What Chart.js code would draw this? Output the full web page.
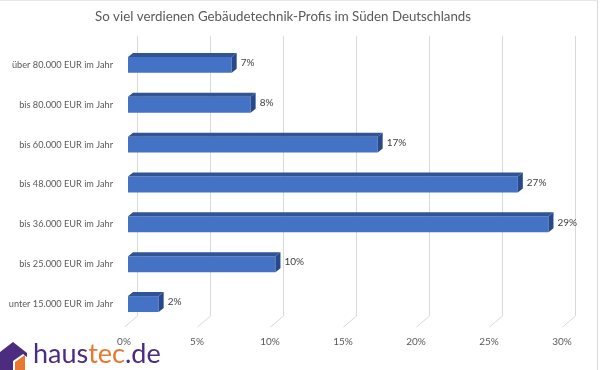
<!DOCTYPE html>
<html>
<head>
<meta charset="utf-8">
<script src="https://cdn.jsdelivr.net/npm/chart.js@4.4.1/dist/chart.umd.min.js"></script>
<style>
  html, body { margin: 0; padding: 0; background: #fff; }
  #wrap { position: relative; width: 600px; height: 370px; overflow: hidden; }
  canvas { position: absolute; left: 0; top: 0; }
  #frameR { position: absolute; left: 597px; top: 0; width: 1px; height: 370px; background: #d9d9d9; }
  #frameT { position: absolute; left: 0; top: 0; width: 598px; height: 1px; background: #e6e6e6; }
  #logo { position: absolute; left: 0; top: 336px; height: 40px; width: 200px; }
  #logo svg { position: absolute; left: 0; top: 5px; }
  #logoText { position: absolute; left: 33px; top: 1px; font-family: Lato, sans-serif; font-size: 27px; line-height: 32px; font-weight: normal; white-space: nowrap; }
  .p { color: #4b2c7e; }
  .o { color: #e8782f; }
</style>
</head>
<body>
<div id="wrap">
  <canvas id="c" width="600" height="370"></canvas>
  <div id="frameR"></div>
  <div id="frameT"></div>
  <div id="logo">
    <svg width="30" height="34" viewBox="0 0 30 34">
      <polygon points="0,11 13,1 27,12 27,16 23,13 13,20 13,34 0,34" fill="#4b2c7e"/>
      <polygon points="15,21 25,14 25,34 15,34" fill="#e8782f"/>
    </svg>
    <div id="logoText"><span class="p">haus</span><span class="o">tec</span><span class="p">.de</span></div>
  </div>
</div>
<script>
const chartTitle = "So viel verdienen Gebäudetechnik-Profis im Süden Deutschlands";
const categories = [
  "über 80.000 EUR im Jahr",
  "bis 80.000 EUR im Jahr",
  "bis 60.000 EUR im Jahr",
  "bis 48.000 EUR im Jahr",
  "bis 36.000 EUR im Jahr",
  "bis 25.000 EUR im Jahr",
  "unter 15.000 EUR im Jahr"
];
// bar lengths (percent)
const shares = [7.1, 8.4, 17.1, 26.7, 28.8, 10.1, 2.1];
// value labels as printed in the chart
const valueLabels = ["7%", "8%", "17%", "27%", "29%", "10%", "2%"];
const xTicks = [0, 5, 10, 15, 20, 25, 30];

const FONT = "Lato, 'Liberation Sans', sans-serif";
const TXT = "#595959";

const DX = 5, DY = 4;       // bar depth
const GX = 9;               // back wall offset

const threeD = {
  id: "threeD",
  beforeDatasetsDraw(chart) {
    const ctx = chart.ctx;
    const xs = chart.scales.x;
    const area = chart.chartArea;
    ctx.save();
    ctx.strokeStyle = "#d9d9d9";
    ctx.lineWidth = 1;
    xTicks.forEach(v => {
      const px = Math.round(xs.getPixelForValue(v)) + 0.5;
      ctx.beginPath();
      ctx.moveTo(px + GX, area.top - 9);
      ctx.lineTo(px + GX, area.bottom - 8);
      ctx.lineTo(px - 4, area.bottom + 3);
      ctx.stroke();
    });
    ctx.restore();
  },
  afterDatasetsDraw(chart) {
    const ctx = chart.ctx;
    const meta = chart.getDatasetMeta(0);
    ctx.save();
    meta.data.forEach((bar, i) => {
      const p = bar.getProps(["x", "y", "base", "height"], true);
      const top = p.y - p.height / 2;
      const bottom = p.y + p.height / 2;
      const l = p.base, r = p.x;
      ctx.fillStyle = "#2f5597";
      ctx.beginPath();
      ctx.moveTo(l, top);
      ctx.lineTo(l + DX, top - DY);
      ctx.lineTo(r + DX, top - DY);
      ctx.lineTo(r, top);
      ctx.closePath();
      ctx.fill();
      ctx.fillStyle = "#27488a";
      ctx.beginPath();
      ctx.moveTo(r, top);
      ctx.lineTo(r + DX, top - DY);
      ctx.lineTo(r + DX, bottom - DY);
      ctx.lineTo(r, bottom);
      ctx.closePath();
      ctx.fill();
      ctx.fillStyle = "#404040";
      ctx.font = "10px " + FONT;
      ctx.textAlign = "left";
      ctx.textBaseline = "middle";
      ctx.fillText(valueLabels[i], r + DX + 4, p.y - 2);
    });
    ctx.restore();
  }
};

new Chart(document.getElementById("c"), {
  type: "bar",
  data: {
    labels: categories,
    datasets: [{
      data: shares,
      backgroundColor: "#4472c4",
      borderWidth: 0,
      barPercentage: 0.4,
      categoryPercentage: 1.0
    }]
  },
  options: {
    indexAxis: "y",
    responsive: false,
    animation: false,
    layout: { padding: { left: 0, right: 34, top: 0, bottom: 0 } },
    plugins: {
      legend: { display: false },
      tooltip: { enabled: false },
      title: {
        display: true,
        text: chartTitle,
        color: TXT,
        font: { family: FONT, size: 13.3, weight: "normal" },
        padding: { top: 9, bottom: 20 }
      }
    },
    scales: {
      x: {
        min: 0,
        max: 30,
        afterBuildTicks(scale) { scale.ticks = xTicks.map(v => ({ value: v })); },
        afterFit(scale) { scale.height = 46; },
        grid: { display: false, drawTicks: false },
        border: { display: false },
        ticks: {
          color: TXT,
          font: { family: FONT, size: 10 },
          padding: 12,
          labelOffset: -4,
          maxRotation: 0,
          callback: v => v + "%"
        }
      },
      y: {
        afterFit(scale) { scale.width = 128; },
        grid: { display: false, drawTicks: false },
        border: { display: false },
        ticks: {
          color: TXT,
          font: { family: FONT, size: 9.2 },
          padding: 15
        }
      }
    }
  },
  plugins: [threeD]
});
</script>
</body>
</html>
